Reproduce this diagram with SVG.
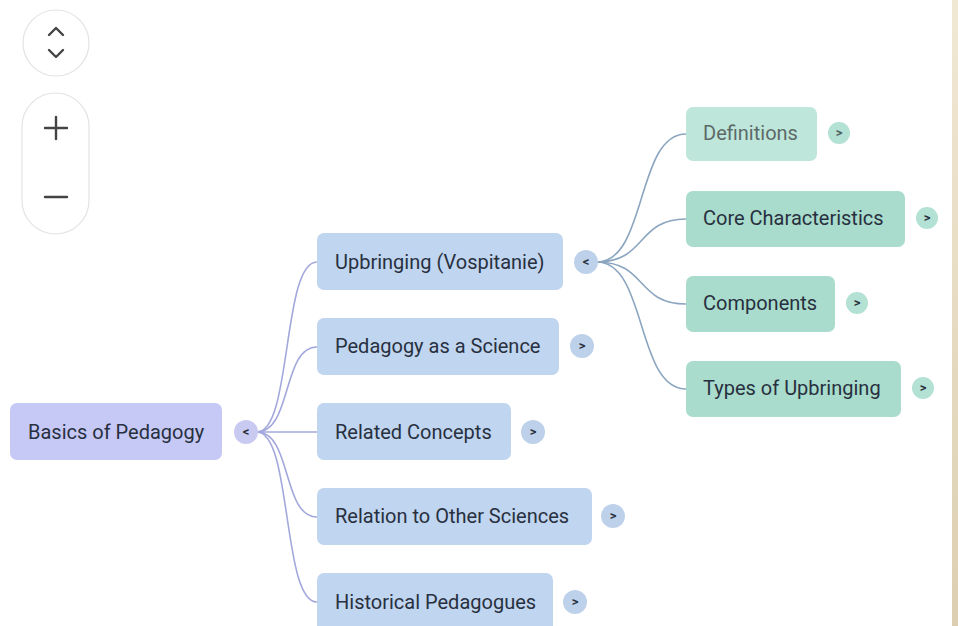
<svg xmlns="http://www.w3.org/2000/svg" width="958" height="626" viewBox="0 0 958 626">
  <defs>
    <linearGradient id="beige" x1="0" y1="0" x2="0" y2="1">
      <stop offset="0" stop-color="#f1e8d4"/>
      <stop offset="1" stop-color="#dccfb1"/>
    </linearGradient>
    <style>
      .lbl { font-family: Roboto, "Liberation Sans", sans-serif; font-size: 20px; fill: #283040; }
      .tg { font-family: Roboto, "Liberation Sans", sans-serif; font-size: 13px; font-weight: bold; fill: #2b3140; text-anchor: middle; }
      .root { fill: #c6c9f6; }
      .l1 { fill: #c0d5ef; }
      .l2 { fill: #a9dccc; }
      .l2f { fill: #bfe6da; }
      .troot { fill: #c8caf1; }
      .tl1 { fill: #bed1ea; }
      .tl2 { fill: #b3e1d4; }
      .c-root { fill: none; stroke: #a3a8dc; stroke-width: 1.6; }
      .c-l1 { fill: none; stroke: #8da6c0; stroke-width: 1.6; }
      .ctrl { fill: #ffffff; stroke: #e3e3e3; stroke-width: 1.2; }
      .ico { fill: none; stroke: #444; stroke-width: 2.4; stroke-linecap: round; stroke-linejoin: round; }
    </style>
  </defs>

  <rect x="0" y="0" width="958" height="626" fill="#ffffff"/>
  <rect x="952" y="0" width="6" height="626" fill="url(#beige)"/>

  <g id="controls">
    <circle class="ctrl" cx="56" cy="43" r="33"/>
    <path class="ico" d="M49 35 L56 28 L63 35 M49 50 L56 57 L63 50"/>
    <rect class="ctrl" x="22" y="93" width="67" height="141" rx="33.5"/>
    <path class="ico" d="M45 128 H67 M56 117 V139"/>
    <path class="ico" d="M45 197 H67"/>
  </g>

  <g id="connectors">
    <path class="c-root" d="M257 432 C292 432 282 262 317 262"/>
    <path class="c-root" d="M257 432 C292 432 282 347 317 347"/>
    <path class="c-root" d="M257 432 L317 432"/>
    <path class="c-root" d="M257 432 C292 432 282 517 317 517"/>
    <path class="c-root" d="M257 432 C292 432 282 602 317 602"/>
    <path class="c-l1" d="M597 262 C647 262 636 134 686 134"/>
    <path class="c-l1" d="M597 262 C647 262 636 219 686 219"/>
    <path class="c-l1" d="M597 262 C647 262 636 304 686 304"/>
    <path class="c-l1" d="M597 262 C647 262 636 389 686 389"/>
  </g>

  <g id="n-root">
    <rect class="root" x="10" y="403" width="212" height="57" rx="7"/>
    <text class="lbl" x="28" y="439">Basics of Pedagogy</text>
    <circle class="troot" cx="246" cy="432" r="12"/>
    <text class="tg" x="246" y="436">&lt;</text>
  </g>

  <g id="n-upbringing">
    <rect class="l1" x="317" y="233" width="246" height="57" rx="7"/>
    <text class="lbl" x="335" y="269">Upbringing (Vospitanie)</text>
    <circle class="tl1" cx="586" cy="262" r="12"/>
    <text class="tg" x="586" y="266">&lt;</text>
  </g>

  <g id="n-science">
    <rect class="l1" x="317" y="318" width="242" height="57" rx="7"/>
    <text class="lbl" x="335" y="353">Pedagogy as a Science</text>
    <circle class="tl1" cx="582" cy="346" r="12"/>
    <text class="tg" x="582" y="350">&gt;</text>
  </g>

  <g id="n-related">
    <rect class="l1" x="317" y="403" width="194" height="57" rx="7"/>
    <text class="lbl" x="335" y="439">Related Concepts</text>
    <circle class="tl1" cx="533" cy="432" r="12"/>
    <text class="tg" x="533" y="436">&gt;</text>
  </g>

  <g id="n-relation">
    <rect class="l1" x="317" y="488" width="275" height="57" rx="7"/>
    <text class="lbl" x="335" y="523">Relation to Other Sciences</text>
    <circle class="tl1" cx="613" cy="516" r="12"/>
    <text class="tg" x="613" y="520">&gt;</text>
  </g>

  <g id="n-historical">
    <rect class="l1" x="317" y="573" width="236" height="60" rx="7"/>
    <text class="lbl" x="335" y="609">Historical Pedagogues</text>
    <circle class="tl1" cx="575" cy="602" r="12"/>
    <text class="tg" x="575" y="606">&gt;</text>
  </g>

  <g id="n-definitions">
    <rect class="l2f" x="686" y="107" width="131" height="54" rx="7"/>
    <text class="lbl" x="703" y="140" style="fill:#5c6a68">Definitions</text>
    <circle class="tl2" cx="839" cy="133" r="11"/>
    <text class="tg" x="839" y="137" style="fill:#50605c">&gt;</text>
  </g>

  <g id="n-core">
    <rect class="l2" x="686" y="191" width="219" height="56" rx="7"/>
    <text class="lbl" x="703" y="225">Core Characteristics</text>
    <circle class="tl2" cx="927" cy="218" r="11"/>
    <text class="tg" x="927" y="222">&gt;</text>
  </g>

  <g id="n-components">
    <rect class="l2" x="686" y="276" width="149" height="56" rx="7"/>
    <text class="lbl" x="703" y="310">Components</text>
    <circle class="tl2" cx="857" cy="303" r="11"/>
    <text class="tg" x="857" y="307">&gt;</text>
  </g>

  <g id="n-types">
    <rect class="l2" x="686" y="361" width="215" height="56" rx="7"/>
    <text class="lbl" x="703" y="395">Types of Upbringing</text>
    <circle class="tl2" cx="923" cy="388" r="11"/>
    <text class="tg" x="923" y="392">&gt;</text>
  </g>
</svg>
